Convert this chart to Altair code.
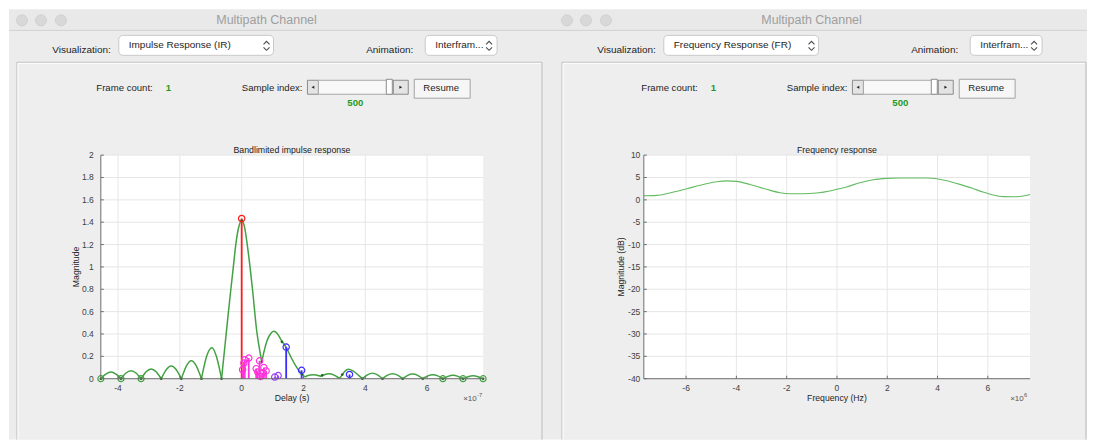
import altair as alt
import pandas as pd

FONT = "Liberation Sans"

# ------------------------------------------------------------------ data
# Bandlimited impulse response, delay in units of 1e-7 s (one list entry per read point)
IR_DELAY = [
    -4.557, -4.492, -4.394, -4.232, -4.069, -3.971, -3.906,
    -3.906, -3.841, -3.743, -3.581, -3.418, -3.320, -3.255,
    -3.255, -3.190, -3.092, -2.930, -2.767, -2.669, -2.604,
    -2.604, -2.539, -2.441, -2.279, -2.116, -2.018, -1.953,
    -1.953, -1.888, -1.790, -1.628, -1.465, -1.367, -1.302,
    -1.302, -1.237, -1.139, -0.960, -0.814, -0.716, -0.651,
    -0.651, -0.55, -0.45, -0.35, -0.27, -0.19, -0.10, 0.0, 0.09, 0.18, 0.27, 0.35, 0.49, 0.58, 0.651,
    0.651, 0.72, 0.82, 0.93, 1.04, 1.15, 1.27, 1.45, 1.60, 1.75, 1.90, 2.05,
    2.05, 2.12, 2.32, 2.50, 2.57,
    2.57, 2.65, 2.85, 3.07, 3.17,
    3.17, 3.24, 3.33, 3.46, 3.60, 3.78, 3.906,
    3.906, 3.971, 4.069, 4.232, 4.394, 4.492, 4.557,
    4.557, 4.622, 4.720, 4.883, 5.045, 5.143, 5.208,
    5.208, 5.273, 5.371, 5.534, 5.696, 5.794, 5.859,
    5.859, 5.924, 6.022, 6.185, 6.347, 6.445, 6.510,
    6.510, 6.575, 6.673, 6.836, 6.998, 7.096, 7.161,
    7.161, 7.226, 7.324, 7.487, 7.649, 7.747, 7.812,
]
IR_MAG = [
    0, 0.019, 0.042, 0.060, 0.042, 0.019, 0,
    0, 0.022, 0.051, 0.072, 0.051, 0.022, 0,
    0, 0.027, 0.062, 0.088, 0.062, 0.027, 0,
    0, 0.035, 0.080, 0.113, 0.080, 0.035, 0,
    0, 0.049, 0.113, 0.160, 0.113, 0.049, 0,
    0, 0.086, 0.197, 0.278, 0.197, 0.086, 0,
    0, 0.27, 0.54, 0.80, 1.00, 1.20, 1.35, 1.415, 1.36, 1.20, 1.00, 0.80, 0.42, 0.26, 0.15,
    0.15, 0.24, 0.34, 0.40, 0.424, 0.405, 0.35, 0.275, 0.19, 0.115, 0.055, 0.015,
    0.015, 0.027, 0.036, 0.027, 0.020,
    0.020, 0.033, 0.045, 0.020, 0.004,
    0.004, 0.030, 0.065, 0.085, 0.070, 0.030, 0,
    0, 0.015, 0.035, 0.050, 0.035, 0.015, 0,
    0, 0.014, 0.032, 0.045, 0.032, 0.014, 0,
    0, 0.013, 0.030, 0.042, 0.030, 0.013, 0,
    0, 0.011, 0.025, 0.036, 0.025, 0.011, 0,
    0, 0.009, 0.021, 0.030, 0.021, 0.009, 0,
    0, 0.008, 0.018, 0.026, 0.018, 0.008, 0,
]
IR_LOBE = ([0] * 7 + [1] * 7 + [2] * 7 + [3] * 7 + [4] * 7 + [5] * 7 + [6] * 15 + [7] * 12
           + [8] * 5 + [9] * 5 + [10] * 7 + [11] * 7 + [12] * 7 + [13] * 7 + [14] * 7
           + [15] * 7 + [16] * 7)

SAMPLE_DELAY = [-4.557, -3.906, -3.255, -2.604, -1.953, -1.302, -0.651, 0.0, 0.651, 1.302,
                1.953, 2.604, 3.255, 3.906, 4.557, 5.208, 5.859, 6.510, 7.161, 7.812]
SAMPLE_MAG = [0, 0, 0, 0, 0, 0, 0, 1.415, 0.15, 0.33, 0.04, 0.03, 0.037, 0, 0, 0, 0, 0, 0, 0]

EDGE_DELAY = [-4.557, -3.906, -3.255, 6.510, 7.161, 7.812]
EDGE_MAG = [0, 0, 0, 0, 0, 0]

PATH_DELAY = [0.0, 0.03, 0.07, 0.10, 0.23, 0.47, 0.52, 0.58, 0.61, 0.66, 0.72, 0.79,
              1.07, 1.18, 1.44, 1.94, 3.49]
PATH_GAIN = [1.433, 0.08, 0.14, 0.17, 0.185, 0.09, 0.06, 0.16, 0.02, 0.05, 0.10, 0.07,
             0.015, 0.028, 0.283, 0.075, 0.038]
PATH_GROUP = ["direct"] + ["near"] * 11 + ["mid"] * 2 + ["far"] * 3
GROUPS = ["direct", "near", "mid", "far"]
GROUP_COLORS = ["#ff1a1a", "#ff33dd", "#9a3cff", "#3a2bff"]

# Frequency response, frequency in units of 1e6 Hz
FR_FREQ = [-7.68, -7.17, -6.50, -5.97, -5.31, -4.78, -4.38, -3.99, -3.46, -2.80, -2.26,
           -1.87, -1.34, -0.81, -0.28, 0.0, 0.38, 0.91, 1.44, 1.97, 2.50, 3.03, 3.56,
           3.96, 4.36, 4.89, 5.42, 5.81, 6.21, 6.61, 7.00, 7.40, 7.68]
FR_DB = [0.9, 1.0, 1.75, 2.5, 3.45, 4.05, 4.25, 4.13, 3.45, 2.35, 1.6, 1.38, 1.35, 1.53,
         1.98, 2.35, 2.87, 3.83, 4.5, 4.8, 4.9, 4.9, 4.87, 4.72, 4.28, 3.46, 2.5, 1.75,
         1.08, 0.71, 0.68, 0.86, 1.2]

IR_XTICKS = [-4, -2, 0, 2, 4, 6]
IR_YTICKS = [0, 0.2, 0.4, 0.6, 0.8, 1, 1.2, 1.4, 1.6, 1.8, 2]
FR_XTICKS = [-6, -4, -2, 0, 2, 4, 6]
FR_YTICKS = [-40, -35, -30, -25, -20, -15, -10, -5, 0, 5, 10]

# ------------------------------------------------------------------ layout
# One canvas; group origin sits at page pixel (8, 8).  G() converts page px -> canvas px.
CANVAS_W, CANVAS_H = 1080, 432
OFF = 8
PAGE_RIGHT = OFF + CANVAS_W


def G(v):
    return v - OFF


W_IR, W_FR, H = 383, 387, 224
IR_OX, IR_OY = G(100), G(155)
FR_OX, FR_OY = G(644), G(155)
WIN_SHIFT = 546
CHEV_UP = "M-1,0.5L0,-0.5L1,0.5"
CHEV_DN = "M-1,-0.5L0,0.5L1,-0.5"
AXIS_COLOR = "#6e6e6e"
LABEL_COLOR = "#404040"
GRID_COLOR = "#e6e6e6"

PX = dict(scale=None)
ONE = pd.DataFrame({"a": [0]})


def frame(rows, cols):
    return pd.DataFrame(rows, columns=cols)


def rects(rows, **mk):
    d = frame([(G(a), G(b), G(c), G(e), f, s) for a, b, c, e, f, s in rows],
              ["x", "x2", "y", "y2", "f", "s"])
    return alt.Chart(d).mark_rect(strokeWidth=1, **mk).encode(
        x=alt.X("x:Q", **PX), x2="x2:Q", y=alt.Y("y:Q", **PX), y2="y2:Q",
        fill=alt.Fill("f:N", **PX), stroke=alt.Stroke("s:N", **PX))


def rules(rows):
    d = frame([(G(a), G(b), G(c), G(e), col) for a, b, c, e, col in rows],
              ["x", "x2", "y", "y2", "c"])
    return alt.Chart(d).mark_rule(strokeWidth=1).encode(
        x=alt.X("x:Q", **PX), x2="x2:Q", y=alt.Y("y:Q", **PX), y2="y2:Q",
        color=alt.Color("c:N", **PX))


def texts(rows, **mk):
    d = frame([(G(a), G(b), t) for a, b, t in rows], ["x", "y", "t"])
    return alt.Chart(d).mark_text(font=FONT, baseline="middle", **mk).encode(
        x=alt.X("x:Q", **PX), y=alt.Y("y:Q", **PX), text="t:N")


def points(rows, **mk):
    d = frame([(G(a), G(b), s) for a, b, s in rows], ["x", "y", "s"])
    return alt.Chart(d).mark_point(opacity=1, **mk).encode(
        x=alt.X("x:Q", **PX), y=alt.Y("y:Q", **PX), shape=alt.Shape("s:N", **PX))


def window(s, left, right, viz_label):
    """macOS window + MATLAB controls; s = horizontal shift of the window contents."""
    pr = min(542 + s, right - 1)
    back = rects([
        (left, right, 9, 440, "#ececec", "transparent"),
        (left, right, 9, 30, "#e9e9e9", "transparent"),
        (16 + s, pr, 62, 440, "#eeeeee", "transparent"),
        (307 + s, 318 + s, 80, 94, "#e4e4e4", "#8c8c8c"),
        (318 + s, 393 + s, 80, 94, "#f8f8f8", "#a8a8a8"),
        (386 + s, 392 + s, 79, 94, "#ffffff", "#8c8c8c"),
        (393 + s, 408 + s, 80, 94, "#e4e4e4", "#8c8c8c"),
        (414 + s, 470 + s, 79, 98, "#f6f6f6", "#a3a3a3"),
    ])
    drop = rects([
        (118 + s, 273 + s, 35, 55, "#ffffff", "#c8c8c8"),
        (425 + s, 497 + s, 35, 55, "#ffffff", "#c8c8c8"),
    ], cornerRadius=4)
    lines = rules([
        (left, right, 30, 30, "#d0d0d0"),
        (16 + s, pr, 62, 62, "#bcbcbc"),
        (16 + s, 16 + s, 62, 440, "#bcbcbc"),
        (pr, pr, 62, 440, "#bcbcbc"),
        (17 + s, pr - 1, 63, 63, "#ffffff"),
        (17 + s, 17 + s, 63, 440, "#ffffff"),
    ])
    lights = points([(21 + s, 20, "circle"), (40 + s, 20, "circle"), (60 + s, 20, "circle")],
                    filled=True, size=125, color="#d8d8d8", stroke="#cbcbcb", strokeWidth=0.7)
    chev = points([(266 + s, 42.5, CHEV_UP), (266 + s, 48.5, CHEV_DN),
                   (489 + s, 42.5, CHEV_UP), (489 + s, 48.5, CHEV_DN)],
                  filled=False, size=36, color="#4a4a4a", strokeWidth=1.1)
    arrows = points([(312.5 + s, 87, "triangle-left"), (400.5 + s, 87, "triangle-right")],
                    filled=True, size=10, color="#222222")
    words = [
        texts([(128 + s, 45, viz_label), (435 + s, 45, "Interfram...")],
              align="left", fontSize=10, color="#1e1e1e"),
        texts([(110 + s, 49.5, "Visualization:"), (413 + s, 49.5, "Animation:")],
              align="right", fontSize=10, color="#1e1e1e"),
        texts([(152 + s, 88, "Frame count:"), (302 + s, 88, "Sample index:")],
              align="right", fontSize=9.6, color="#1e1e1e"),
        texts([(441 + s, 87.5, "Resume")], align="center", fontSize=9.6, color="#1e1e1e"),
        texts([(165 + s, 88, "1")], align="left", fontSize=9.6, color="#1f9a1f",
              fontWeight="bold"),
        texts([(355 + s, 103, "500")], align="center", fontSize=9.6, color="#1f9a1f",
              fontWeight="bold"),
        texts([(266 + s, 20, "Multipath Channel")], align="center", fontSize=12.5,
              color="#9e9e9e"),
    ]
    return [back, drop, lines, lights, chev, arrows] + words


def plot_texts(ox, oy, w, title, xtitle, ytitle, ytitle_dx, exp):
    ox, oy = ox + OFF, oy + OFF  # back to page px for texts()
    return [
        texts([(ox + w / 2, oy - 5, title)], align="center", fontSize=8.8, color="#1a1a1a"),
        texts([(ox + w / 2, oy + 243, xtitle)], align="center", fontSize=8.7, color="#262626"),
        texts([(ox + ytitle_dx, oy + 112, ytitle)], align="center", fontSize=8.7,
              color="#262626", angle=270),
        texts([(ox + w - 20, oy + 244, "\u00d710")], align="left", fontSize=8, color="#555555"),
        texts([(ox + w - 6, oy + 240.5, exp)], align="left", fontSize=5.8, color="#555555"),
    ]


def plot_frame(ox, oy, w, xs, ys, xticks, yticks, ylab_pad):
    """White plot area, grid, and MATLAB-style axes (lines, inward ticks, tick labels)."""
    xt = pd.DataFrame({"v": xticks, "lab": [f"{v:g}" for v in xticks]})
    yt = pd.DataFrame({"v": yticks, "lab": [f"{v:g}" for v in yticks]})
    X = lambda: alt.X("v:Q", scale=xs, axis=None)
    Y = lambda: alt.Y("v:Q", scale=ys, axis=None)
    under = [
        alt.Chart(ONE).mark_rect(color="white").encode(
            x=alt.value(ox), x2=alt.value(ox + w), y=alt.value(oy), y2=alt.value(oy + H)),
        alt.Chart(xt).mark_rule(color=GRID_COLOR).encode(
            x=X(), y=alt.value(oy), y2=alt.value(oy + H)),
        alt.Chart(yt).mark_rule(color=GRID_COLOR).encode(
            y=Y(), x=alt.value(ox), x2=alt.value(ox + w)),
    ]
    over = [
        alt.Chart(ONE).mark_rule(color=AXIS_COLOR).encode(
            x=alt.value(ox), x2=alt.value(ox + w), y=alt.value(oy + H)),
        alt.Chart(ONE).mark_rule(color=AXIS_COLOR).encode(
            x=alt.value(ox), y=alt.value(oy), y2=alt.value(oy + H)),
        alt.Chart(xt).mark_rule(color=AXIS_COLOR).encode(
            x=X(), y=alt.value(oy + H - 3), y2=alt.value(oy + H)),
        alt.Chart(yt).mark_rule(color=AXIS_COLOR).encode(
            y=Y(), x=alt.value(ox), x2=alt.value(ox + 3)),
        alt.Chart(xt).mark_text(font=FONT, fontSize=8.5, color=LABEL_COLOR, align="center",
                                baseline="middle").encode(
            x=X(), y=alt.value(oy + H + 9.5), text="lab:N"),
        alt.Chart(yt).mark_text(font=FONT, fontSize=8.5, color=LABEL_COLOR, align="right",
                                baseline="middle").encode(
            y=Y(), x=alt.value(ox - ylab_pad), text="lab:N"),
    ]
    return under, over


# ------------------------------------------------------------------ impulse response
xs_ir = alt.Scale(domain=[-4.557, 7.812], range=[IR_OX, IR_OX + W_IR], nice=False, zero=False)
ys_ir = alt.Scale(domain=[0, 2], range=[IR_OY + H, IR_OY], nice=False, zero=False)

ir_df = pd.DataFrame({"d": IR_DELAY, "m": IR_MAG, "lobe": IR_LOBE})
path_df = pd.DataFrame({"d": PATH_DELAY, "m": PATH_GAIN, "g": PATH_GROUP})
grp_color = alt.Color("g:N", scale=alt.Scale(domain=GROUPS, range=GROUP_COLORS), legend=None)
XD = lambda: alt.X("d:Q", scale=xs_ir, axis=None)
YM = lambda: alt.Y("m:Q", scale=ys_ir, axis=None)

ir_under, ir_over = plot_frame(IR_OX, IR_OY, W_IR, xs_ir, ys_ir, IR_XTICKS, IR_YTICKS, 7)
ir_layers = window(0, 8, 552, "Impulse Response (IR)") + plot_texts(
    IR_OX, IR_OY, W_IR, "Bandlimited impulse response", "Delay (s)", "Magnitude", -25, "-7"
) + ir_under + [
    alt.Chart(ir_df).mark_line(interpolate="monotone", color="#43a143", strokeWidth=1.5).encode(
        x=XD(), y=YM(), detail="lobe:N"),
    alt.Chart(path_df).mark_rule(strokeWidth=1.8).encode(
        x=XD(), y=YM(), y2=alt.datum(0), color=grp_color),
    alt.Chart(pd.DataFrame({"d": SAMPLE_DELAY, "m": SAMPLE_MAG})).mark_circle(
        size=7, color="#1d6b1d", opacity=1).encode(x=XD(), y=YM()),
    alt.Chart(pd.DataFrame({"d": EDGE_DELAY, "m": EDGE_MAG})).mark_point(
        filled=False, size=36, color="#43a143", strokeWidth=1.2, opacity=1).encode(
        x=XD(), y=YM()),
    alt.Chart(path_df).mark_point(filled=False, size=40, strokeWidth=1.2, opacity=1).encode(
        x=XD(), y=YM(), color=grp_color),
] + ir_over

# ------------------------------------------------------------------ frequency response
xs_fr = alt.Scale(domain=[-7.68, 7.68], range=[FR_OX, FR_OX + W_FR], nice=False, zero=False)
ys_fr = alt.Scale(domain=[-40, 10], range=[FR_OY + H, FR_OY], nice=False, zero=False)

fr_under, fr_over = plot_frame(FR_OX, FR_OY, W_FR, xs_fr, ys_fr, FR_XTICKS, FR_YTICKS, 3.5)
fr_layers = window(WIN_SHIFT, 552, PAGE_RIGHT, "Frequency Response (FR)") + plot_texts(
    FR_OX, FR_OY, W_FR, "Frequency response", "Frequency (Hz)", "Magnitude (dB)", -23, "6"
) + fr_under + [
    alt.Chart(pd.DataFrame({"f": FR_FREQ, "db": FR_DB})).mark_line(
        interpolate="monotone", color="#62bb62", strokeWidth=1.1).encode(
        x=alt.X("f:Q", scale=xs_fr, axis=None), y=alt.Y("db:Q", scale=ys_fr, axis=None)),
] + fr_over

chart = alt.layer(*(ir_layers + fr_layers)).resolve_scale(
    x="independent", y="independent"
).properties(
    width=CANVAS_W, height=CANVAS_H, padding=0
).configure_view(strokeWidth=0)

chart.save("out.html", embed_options={"renderer": "svg", "actions": False})
